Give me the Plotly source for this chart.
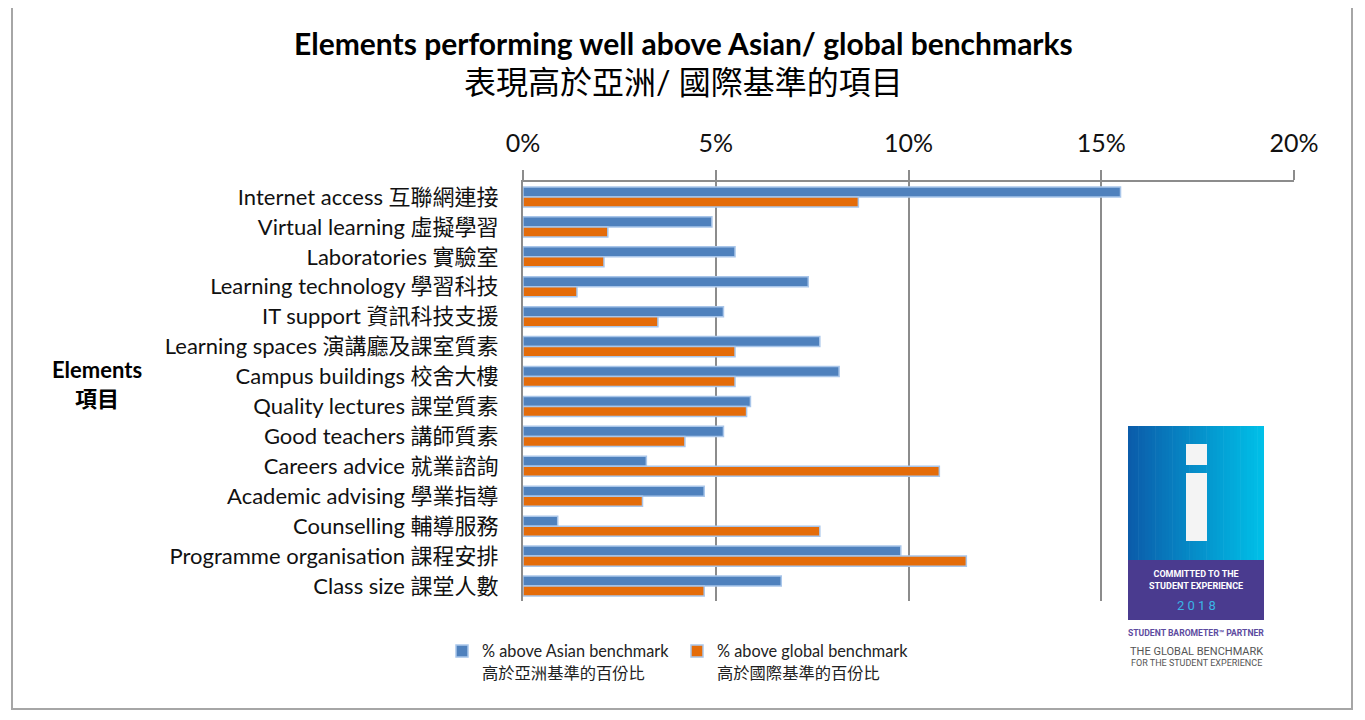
import plotly.graph_objects as go

categories = [
    "Internet access 互聯網連接",
    "Virtual learning 虛擬學習",
    "Laboratories 實驗室",
    "Learning technology 學習科技",
    "IT support 資訊科技支援",
    "Learning spaces 演講廳及課室質素",
    "Campus buildings 校舍大樓",
    "Quality lectures 課堂質素",
    "Good teachers 講師質素",
    "Careers advice 就業諮詢",
    "Academic advising 學業指導",
    "Counselling 輔導服務",
    "Programme organisation 課程安排",
    "Class size 課堂人數",
]
asian = [15.5, 4.9, 5.5, 7.4, 5.2, 7.7, 8.2, 5.9, 5.2, 3.2, 4.7, 0.9, 9.8, 6.7]
globl = [8.7, 2.2, 2.1, 1.4, 3.5, 5.5, 5.5, 5.8, 4.2, 10.8, 3.1, 7.7, 11.5, 4.7]
tick_vals = [0, 5, 10, 15, 20]
tick_text = ["0%", "5%", "10%", "15%", "20%"]

FONT = "Lato, 'Noto Sans CJK TC', sans-serif"
# page body has an 8px margin, so work in screen pixels and shift back
OFF = 8
W, H = 1365 - OFF, 720 - OFF
L, R, T, B = 523, 1294, 182, 601


def px(x):
    return (x - L) / (R - L)


def py(y):
    return (B - y) / (B - T)


fig = go.Figure()
fig.add_trace(go.Bar(
    y=categories, x=asian, orientation="h",
    name="% above Asian benchmark<br>高於亞洲基準的百份比",
    marker=dict(color="#4F81BD", line=dict(color="#A9C6EA", width=1.5)),
))
fig.add_trace(go.Bar(
    y=categories, x=globl, orientation="h",
    name="% above global benchmark<br>高於國際基準的百份比",
    marker=dict(color="#E46C0A", line=dict(color="#A9C6EA", width=1.5)),
))

shapes = []
# outer frame
shapes.append(dict(type="rect", xref="paper", yref="paper",
                   x0=px(12), x1=px(1352), y0=py(1), y1=py(709),
                   line=dict(color="#A6A6A6", width=2), layer="below"))

# logo gradient
lx0, lx1, ly0, ly1 = 1128, 1264, 426, 560
n = 40
c0 = (0x0B, 0x5C, 0xAA)
c1 = (0x00, 0xC0, 0xE8)
for i in range(n):
    t = i / (n - 1)
    col = "rgb(%d,%d,%d)" % tuple(round(a + (b - a) * t) for a, b in zip(c0, c1))
    xa = lx0 + (lx1 - lx0) * i / n
    xb = lx0 + (lx1 - lx0) * (i + 1) / n
    shapes.append(dict(type="rect", xref="paper", yref="paper",
                       x0=px(xa), x1=px(min(xb + 0.6, lx1)), y0=py(ly0), y1=py(ly1),
                       line=dict(width=0), fillcolor=col))
shapes.append(dict(type="rect", xref="paper", yref="paper",
                   x0=px(lx0), x1=px(lx1), y0=py(560), y1=py(620),
                   line=dict(width=0), fillcolor="#4A3B8F"))
shapes.append(dict(type="rect", xref="paper", yref="paper",
                   x0=px(1186), x1=px(1207), y0=py(444), y1=py(465),
                   line=dict(width=0), fillcolor="#F4F4F4"))
shapes.append(dict(type="rect", xref="paper", yref="paper",
                   x0=px(1186), x1=px(1207), y0=py(473), y1=py(541),
                   line=dict(width=0), fillcolor="#F4F4F4"))

annotations = [
    dict(text="<b>Elements performing well above Asian/ global benchmarks</b>",
         x=px(683), y=py(43), font=dict(size=30, color="#000")),
    dict(text="表現高於亞洲/ 國際基準的項目",
         x=px(683), y=py(81), font=dict(size=32, color="#000")),
    dict(text="<b>Elements<br>項目</b>", x=px(97), y=py(384),
         font=dict(size=22, color="#000")),
    dict(text="<b>COMMITTED TO THE<br>STUDENT EXPERIENCE</b>",
         x=px(1196), y=py(580), font=dict(size=9, color="#FFFFFF", family="Roboto")),
    dict(text="2 0 1 8", x=px(1196), y=py(605),
         font=dict(size=13, color="#3AB4E6", family="Roboto")),
    dict(text="<b>STUDENT BAROMETER™ PARTNER</b>", x=px(1196), y=py(633),
         font=dict(size=8.6, color="#5D4BA0", family="Roboto")),
    dict(text="THE GLOBAL BENCHMARK", x=px(1196), y=py(651),
         font=dict(size=11, color="#555555", family="Roboto")),
    dict(text="FOR THE STUDENT EXPERIENCE", x=px(1196), y=py(663),
         font=dict(size=9, color="#555555", family="Roboto")),
]
for a in annotations:
    a.update(xref="paper", yref="paper", showarrow=False,
             xanchor="center", yanchor="middle")

fig.update_layout(
    width=W, height=H,
    margin=dict(l=L - OFF, r=W - (R - OFF), t=T - OFF, b=H - (B - OFF),
                autoexpand=False),
    paper_bgcolor="white", plot_bgcolor="white",
    font=dict(family=FONT, color="#111"),
    barmode="group", bargap=0.33, bargroupgap=0.0,
    shapes=shapes, annotations=annotations,
    legend=dict(orientation="h", x=px(442), y=py(634), xanchor="left",
                yanchor="top", valign="top", entrywidth=190,
                entrywidthmode="pixels", font=dict(size=16.3, color="#222"),
                itemwidth=30, traceorder="normal"),
    xaxis=dict(side="top", range=[0, 20], tickvals=tick_vals, ticktext=tick_text,
               showgrid=True, gridcolor="#8C8C8C", gridwidth=2,
               ticks="outside", ticklen=10, tickcolor="#8C8C8C", tickwidth=2,
               showline=True, linecolor="#8C8C8C", linewidth=2,
               tickfont=dict(size=25, color="#111"), zeroline=False,
               ticklabelstandoff=8),
    yaxis=dict(autorange="reversed", showline=True, linecolor="#8C8C8C",
               linewidth=2, ticks="", tickfont=dict(size=22, color="#111"),
               ticklabelstandoff=18, showgrid=False),
)

fig.write_html("out.html")
